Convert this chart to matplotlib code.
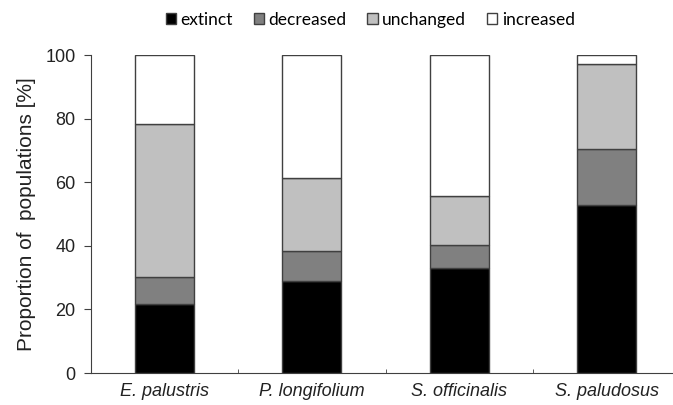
import numpy as np
import matplotlib.pyplot as plt
from matplotlib.ticker import FixedLocator

species = ['E. palustris', 'P. longifolium', 'S. officinalis', 'S. paludosus']
extinct = [21.6, 29.0, 33.1, 53.0]
decreased = [8.5, 9.5, 7.2, 17.5]
unchanged = [48.1, 22.8, 15.3, 26.6]
increased = [21.8, 38.7, 44.4, 2.9]

labels = ['extinct', 'decreased', 'unchanged', 'increased']
colors = ['#000000', '#808080', '#c0c0c0', '#ffffff']

plt.rcParams['font.family'] = ['Liberation Sans', 'DejaVu Sans']

fig = plt.figure(figsize=(6.73, 4.05), dpi=100)
ax = fig.add_axes([0.135, 0.079, 0.865, 0.785])

x = np.arange(len(species))
bottom = np.zeros(len(species))
handles = []
for vals, lab, col in zip([extinct, decreased, unchanged, increased], labels, colors):
    b = ax.bar(x, vals, 0.4, bottom=bottom, color=col, edgecolor='#404040',
               linewidth=1.0, label=lab)
    handles.append(b)
    bottom += np.array(vals)

ax.set_xlim(-0.5, 3.45)
ax.set_ylim(0, 100)
ax.set_yticks([0, 20, 40, 60, 80, 100])
ax.set_xticks(x)
ax.set_xticklabels(species, fontstyle='italic', fontsize=13, color='#222222')
ax.tick_params(axis='x', length=0, pad=7)
ax.xaxis.set_minor_locator(FixedLocator([0.5, 1.5, 2.5]))
ax.tick_params(axis='x', which='minor', direction='in', length=3, color='#404040')
ax.tick_params(axis='y', labelsize=13, length=5, color='#404040', pad=6,
               labelcolor='#222222')
ax.set_ylabel('Proportion of  populations [%]', fontsize=15, labelpad=7,
              color='#222222')

for s in ['top', 'right']:
    ax.spines[s].set_visible(False)
for s in ['left', 'bottom']:
    ax.spines[s].set_color('#404040')

fig.legend(handles=handles, labels=labels, loc='upper center', ncol=4,
           bbox_to_anchor=(0.55, 1.01), frameon=False, handlelength=0.6,
           handleheight=0.6, handletextpad=0.25, columnspacing=1.2,
           prop={'family': 'Lato', 'size': 12.5})

fig.savefig('out.png', dpi=100)
